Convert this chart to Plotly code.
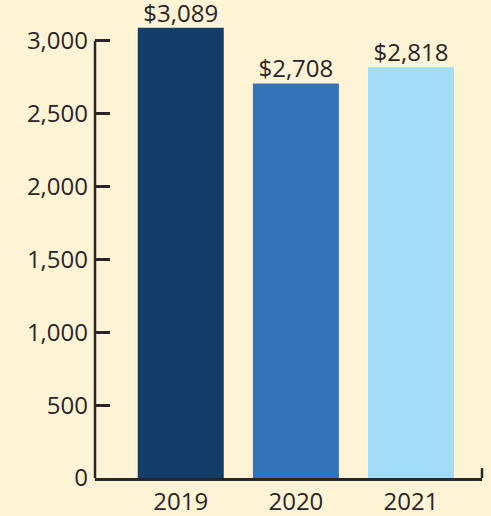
import plotly.graph_objects as go

years = ["2019", "2020", "2021"]
values = [3089, 2708, 2818]
labels = ["$3,089", "$2,708", "$2,818"]
bar_colors = ["#133D68", "#3473B9", "#A2DCF7"]
y_ticks = [0, 500, 1000, 1500, 2000, 2500, 3000]
y_tick_text = ["0", "500", "1,000", "1,500", "2,000", "2,500", "3,000"]

ink = "#2A2526"
bg = "#FFF4D6"
font_family = "Open Sans"

fig = go.Figure()
fig.add_trace(go.Bar(
    x=years, y=values,
    marker=dict(color=bar_colors, line=dict(width=0)),
    hoverinfo="skip",
    showlegend=False,
))
fig.add_trace(go.Scatter(
    x=years, y=values, text=labels,
    mode="text", textposition="top center",
    textfont=dict(family=font_family, size=24, color=ink),
    cliponaxis=False, hoverinfo="skip", showlegend=False,
))

# y axis line, ending at the top tick
fig.add_shape(
    type="line", xref="paper", yref="y",
    x0=0, x1=0, y0=0, y1=y_ticks[-1],
    line=dict(color=ink, width=2.5),
)
# small upward tick at the right end of the x axis
fig.add_shape(
    type="line", xref="paper", yref="paper",
    x0=1, x1=1, y0=0, y1=0.022,
    line=dict(color=ink, width=2.5),
)

fig.update_layout(
    width=491, height=516,
    margin=dict(l=95, r=9, t=27, b=38),
    paper_bgcolor=bg, plot_bgcolor=bg,
    bargap=0.253,
    font=dict(family=font_family, size=24, color=ink),
    xaxis=dict(
        type="category",
        range=[-0.745, 2.617],
        showline=True, linecolor=ink, linewidth=2.5,
        ticks="", showgrid=False, zeroline=False,
        tickfont=dict(family=font_family, size=24, color=ink),
        ticklabelstandoff=0, automargin=False,
    ),
    yaxis=dict(
        range=[0, 3095],
        tickvals=y_ticks, ticktext=y_tick_text,
        showline=False,
        ticks="inside", ticklen=15, tickwidth=2.5, tickcolor=ink,
        showgrid=False, zeroline=False,
        tickfont=dict(family=font_family, size=24, color=ink),
        ticklabelstandoff=6, automargin=False,
    ),
)

fig.write_html(
    "out.html",
    config={"displayModeBar": False},
    post_script="document.body.style.margin='0';document.body.style.background='#FFF4D6';document.body.style.overflow='hidden';",
)
